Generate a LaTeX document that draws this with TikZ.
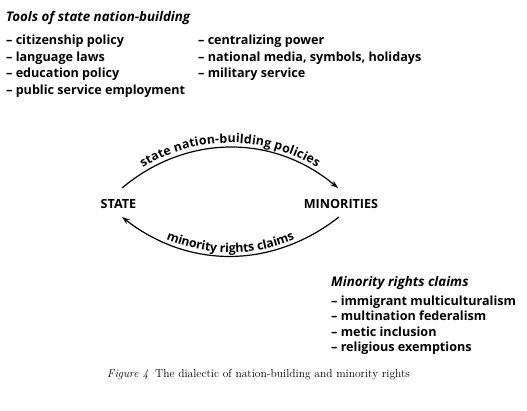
\documentclass[tikz,border=0pt]{standalone}
\usepackage{fontspec}
\newfontfamily\sansf{Open Sans}
\usetikzlibrary{arrows.meta,decorations.text}
\newcommand\lblfont{\sansf\bfseries\fontsize{12.6}{15}\selectfont}
\newcommand\arcfont{\sansf\bfseries\fontsize{12.3}{14}\selectfont}
\tikzset{
  item/.style={font=\lblfont, inner sep=0pt, anchor=base west},
  head/.style={font=\sansf\bfseries\itshape\fontsize{13.3}{15}\selectfont, inner sep=0pt, anchor=base west},
  actor/.style={font=\sansf\bfseries\fontsize{12.6}{15}\selectfont, inner sep=0pt},
  arr/.style={line width=1.2pt, -{Stealth[length=8pt,width=5.5pt]}},
}
\begin{document}
\begin{tikzpicture}[x=1pt,y=1pt]
\useasboundingbox (0,0) rectangle (527,410);
% top-left block
\node[head] (th) at (6,{410-21.7}) {Tools of state nation-building};
\foreach \t [count=\i] in {citizenship policy, language laws, education policy, public service employment}
  \node[item] (l\i) at (6,{410-45-16.4*(\i-1)}) {– \t};
\foreach \t [count=\i] in {centralizing power, {national media, symbols, holidays}, military service}
  \node[item] (r\i) at (198,{410-45-16.4*(\i-1)}) {– \t};
% actors
\node[actor] (state) at (118.5,206.5) {STATE};
\node[actor] (min) at (341,206.5) {MINORITIES};
\coordinate (s1) at (122,222);
\coordinate (m1) at (338,222);
\coordinate (m2) at (339,193);
\coordinate (s2) at (122,193);
\draw[arr] (s1) to[out=40,in=140] (m1);
\path[decorate, decoration={text along path, text align=center, raise=4.5pt,
  text={|\arcfont|state nation-building policies}}] (s1) to[out=40,in=140] (m1);
\draw[arr] (m2) to[out=-142,in=-38] (s2);
\path[decorate, decoration={text along path, text align=center, raise=3.5pt,
  text={|\arcfont|minority rights claims}}] (s2) to[out=-38,in=-142] (m2);
% lower-right block
\node[head] (mh) at (331,{410-286.7}) {Minority rights claims};
\foreach \t [count=\i] in {immigrant multiculturalism, multination federalism, metic inclusion, religious exemptions}
  \node[item] (c\i) at (331,{410-305-15.6*(\i-1)}) {– \t};
% caption
\node[inner sep=0pt, anchor=base west] (cap) at (107,{410-377})
  {\fontsize{11.5}{13}\selectfont\textit{Figure \oldstylenums{4}}\hspace{0.6em}The dialectic of nation-building and minority rights};
\end{tikzpicture}
\end{document}
